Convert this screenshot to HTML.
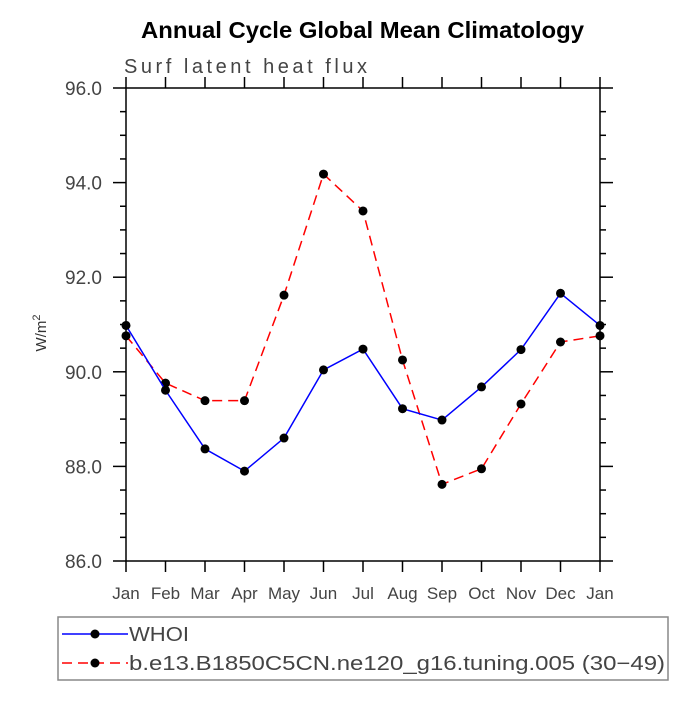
<!DOCTYPE html>
<html><head><meta charset="utf-8"><style>
body{margin:0;background:#fff}
svg text{font-family:"Liberation Sans",sans-serif}
</style></head><body>
<svg id="chart" width="699" height="699" viewBox="0 0 699 699" xmlns="http://www.w3.org/2000/svg">
<rect width="699" height="699" fill="#fff"/>
<text x="141" y="38" textLength="443" lengthAdjust="spacingAndGlyphs" font-size="23" font-weight="bold" fill="#000">Annual Cycle Global Mean Climatology</text>
<text x="124" y="73" textLength="243" lengthAdjust="spacing" font-size="20" fill="#444">Surf latent heat flux</text>
<text transform="translate(46,333) rotate(-90)" text-anchor="middle" font-size="15" fill="#333">W/m<tspan dy="-6" font-size="11">2</tspan></text>
<g id="axes"></g>
<g id="series"></g>
<g>
<rect x="58" y="617" width="610" height="63" fill="none" stroke="#888" stroke-width="1.5"/>
<line x1="62" y1="634" x2="128" y2="634" stroke="#00f" stroke-width="1.5"/>
<circle cx="95" cy="634" r="4.5" fill="#000"/>
<text x="129" y="641" textLength="60" lengthAdjust="spacingAndGlyphs" font-size="20" fill="#444">WHOI</text>
<line x1="62" y1="663" x2="128" y2="663" stroke="#f00" stroke-width="1.5" stroke-dasharray="10,6"/>
<circle cx="95" cy="663" r="4.5" fill="#000"/>
<text x="129" y="670" textLength="536" lengthAdjust="spacingAndGlyphs" font-size="20" fill="#444">b.e13.B1850C5CN.ne120_g16.tuning.005 (30−49)</text>
</g>
</svg>
<script>
const months=["Jan","Feb","Mar","Apr","May","Jun","Jul","Aug","Sep","Oct","Nov","Dec","Jan"];
const whoi=[90.98,89.61,88.37,87.90,88.60,90.04,90.48,89.22,88.98,89.68,90.47,91.66,90.98];
const model=[90.76,89.76,89.39,89.39,91.62,94.18,93.40,90.25,87.62,87.95,89.32,90.63,90.76];
const yTicks=[86,88,90,92,94,96];
const NS="http://www.w3.org/2000/svg";
const L=126,R=600,T=88,B=561,yMin=86,yMax=96;
const xs=i=>L+i*(R-L)/12;
const ys=v=>B-(v-yMin)*(B-T)/(yMax-yMin);
function mk(tag,at,parent){const e=document.createElementNS(NS,tag);for(const k in at)e.setAttribute(k,at[k]);parent.appendChild(e);return e;}
const ax=document.getElementById('axes');
const frame=mk('rect',{x:L,y:T,width:R-L,height:B-T,fill:'none',stroke:'#000','stroke-width':1.5},ax);


for(let i=0;i<months.length;i++){
  const x=xs(i);
  mk('line',{x1:x,y1:B,x2:x,y2:B+11,stroke:'#000','stroke-width':1.5},ax);
  mk('line',{x1:x,y1:T,x2:x,y2:T-11,stroke:'#000','stroke-width':1.5},ax);
  const t=mk('text',{x:x,y:B+38,'text-anchor':'middle','font-size':17,fill:'#444'},ax);
  t.textContent=months[i];
  
  
}
for(let v=yMin;v<=yMax+0.001;v+=0.5){
  const y=ys(v);const major=Math.abs(v-Math.round(v))<0.01&&Math.round(v)%2===0;
  const len=major?13:6;
  mk('line',{x1:L,y1:y,x2:L-len,y2:y,stroke:'#000','stroke-width':1.5},ax);
  mk('line',{x1:R,y1:y,x2:R+len,y2:y,stroke:'#000','stroke-width':1.5},ax);
}
yTicks.forEach(v=>{
  const t=mk('text',{x:102,y:ys(v)+7,'text-anchor':'end','font-size':19,fill:'#444'},ax);
  t.textContent=v.toFixed(1);
  
  
});
const sg=document.getElementById('series');
function draw(vals,color,dash,name){
  const p=mk('polyline',{points:vals.map((v,i)=>xs(i)+','+ys(v)).join(' '),fill:'none',stroke:color,'stroke-width':1.5,'stroke-dasharray':dash},sg);
  
  
  vals.forEach((v,i)=>{
    const c=mk('circle',{cx:xs(i),cy:ys(v),r:4.5,fill:'#000'},sg);
    
    
  });
}
draw(model,'#f00','10,6','model');
draw(whoi,'#00f','none','whoi');
</script>
</body></html>
